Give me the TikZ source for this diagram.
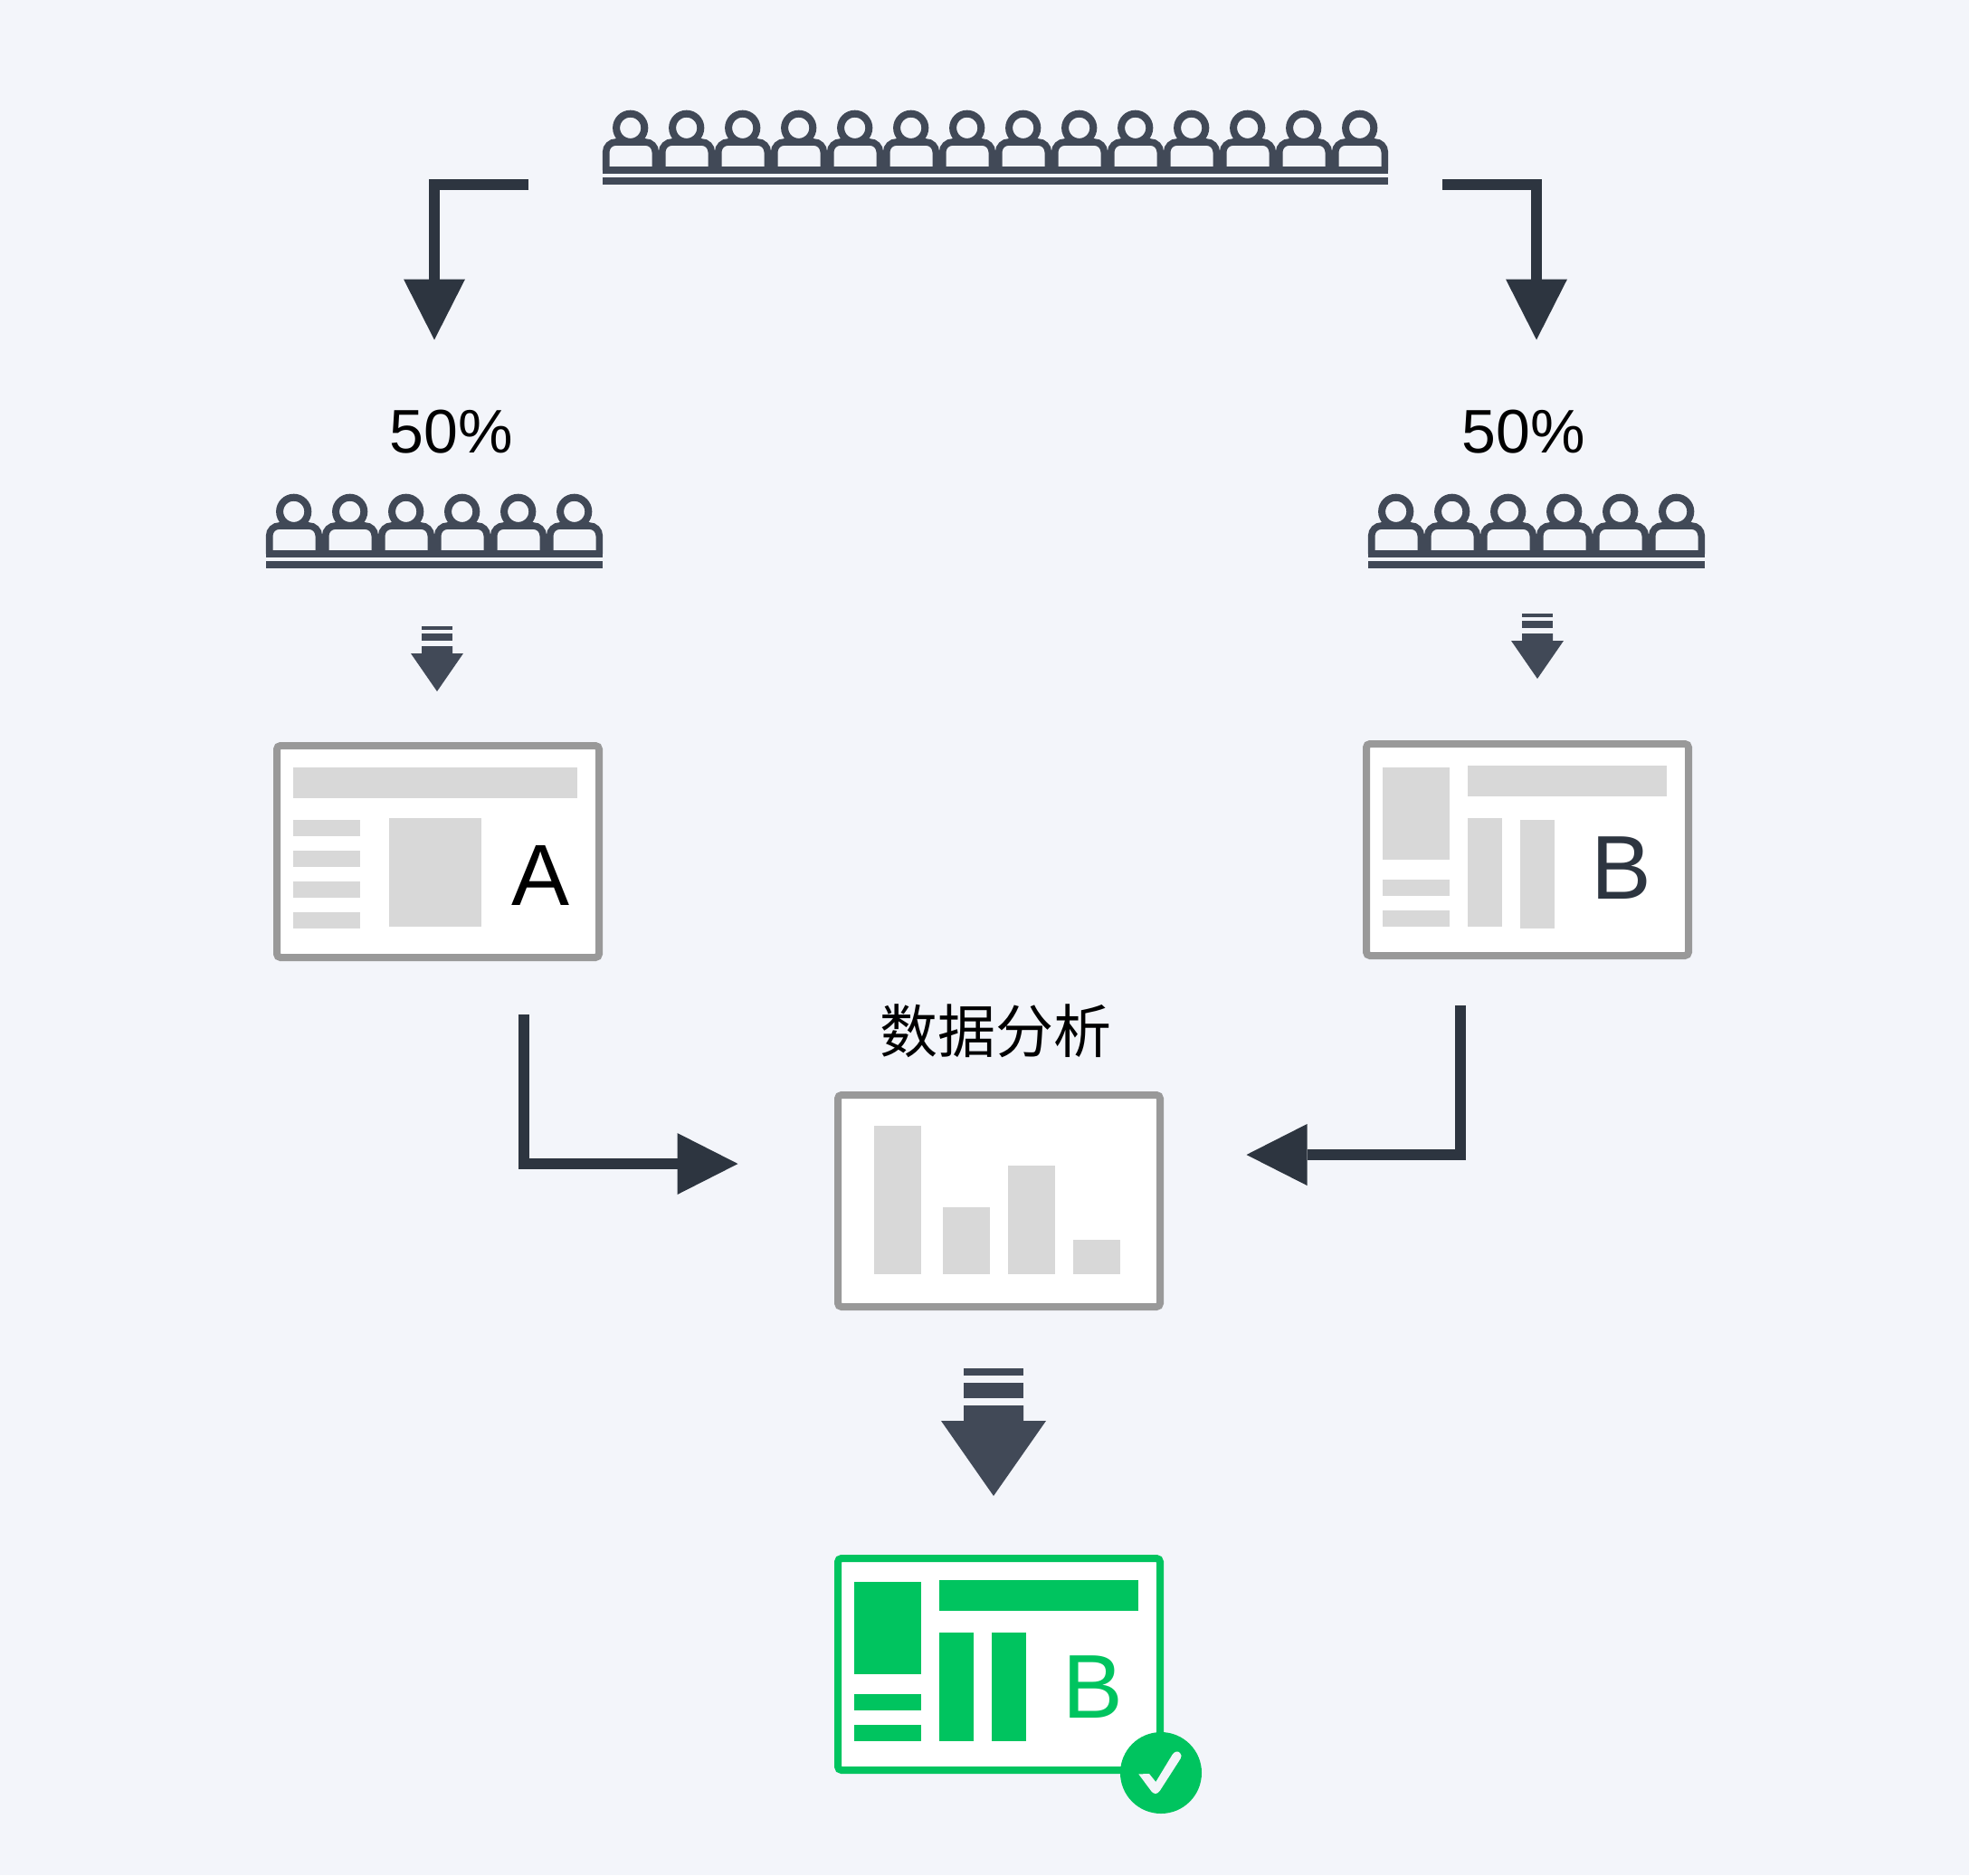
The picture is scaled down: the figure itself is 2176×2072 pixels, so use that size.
\documentclass[tikz,border=0pt]{standalone}
\usepackage{fontspec}
\setmainfont{Liberation Sans}
\newfontfamily\cjkfont{Noto Sans CJK SC}
\usetikzlibrary{arrows.meta}
\definecolor{pagebg}{HTML}{F3F5FA}
\definecolor{slate}{HTML}{414957}
\definecolor{ink}{HTML}{2D3540}
\definecolor{frame}{HTML}{999999}
\definecolor{block}{HTML}{D8D8D8}
\definecolor{okgreen}{HTML}{00C45F}
\tikzset{
  panel/.style={draw=frame,fill=white,line width=8pt,rounded corners=4pt,minimum width=356pt,minimum height=234pt,inner sep=0pt,outer sep=0pt},
  okpanel/.style={panel,draw=okgreen},
  flow/.style={draw=ink,line width=12pt,line cap=butt,line join=miter,-{Triangle[length=67pt,width=68pt,line width=0pt]}},
  label50/.style={anchor=base,inner sep=0pt,font=\fontsize{68}{68}\selectfont,text=black},
  letter/.style={anchor=base,inner sep=0pt,font=\fontsize{100}{100}\selectfont},
  persondraw/.style={draw=slate,line width=7.6pt}
}
\newcommand{\blk}[5]{\fill[#1] (#2,#3) rectangle (#4,#5);}
% crowd: x offset, y offset, count
\newcommand{\crowdrow}[3]{%
  \begin{scope}[shift={(#1,#2)}]
    \pgfmathsetmacro{\lastp}{#3-1}
    \foreach \k in {0,...,\lastp}{
      \begin{scope}[shift={(62*\k,0)}]
        \draw[persondraw,line width=8pt] (30.7,141.3) circle[radius=15.6pt];
        \draw[persondraw,rounded corners=11pt] (3.7,188) -- (3.7,157) -- (58.3,157) -- (58.3,188);
      \end{scope}
    }
    \fill[slate] (0,184) rectangle ({62*#3},192);
    \fill[slate] (0,196) rectangle ({62*#3},204);
  \end{scope}}
% stem arrow: xL, xR, headL, headR, bar y's
\newcommand{\stemarrow}[9]{%
  \fill[slate] (#1,#5) rectangle (#2,#6);
  \fill[slate] (#1,#7) rectangle (#2,#8);
  \fill[slate] (#1,#9) -- (#2,#9) -- (#2,\headtop) -- (#4,\headtop) -- (\tipx,\tipy) -- (#3,\headtop) -- (#1,\headtop) -- cycle;}
\begin{document}
\begin{tikzpicture}[x=1pt,y=-1pt]
\useasboundingbox (0,0) rectangle (2176,2072);
\fill[pagebg] (0,0) rectangle (2176,2072);

% crowds
\crowdrow{666}{0}{14}
\crowdrow{294}{424}{6}
\crowdrow{1512}{424}{6}

% connectors
\coordinate (ltop) at (584,204);
\coordinate (lcorner) at (480,204);
\coordinate (ltip) at (480,375.5);
\coordinate (rtop) at (1594,204);
\coordinate (rcorner) at (1698,204);
\coordinate (rtip) at (1698,375.5);
\coordinate (astart) at (579,1121);
\coordinate (acorner) at (579,1286);
\coordinate (atip) at (815.5,1286);
\coordinate (bstart) at (1614,1111);
\coordinate (bcorner) at (1614,1276);
\coordinate (btip) at (1377.5,1276);
\draw[flow] (ltop) -- (lcorner) -- (ltip);
\draw[flow] (rtop) -- (rcorner) -- (rtip);
\draw[flow] (astart) -- (acorner) -- (atip);
\draw[flow] (bstart) -- (bcorner) -- (btip);

% labels
\node[label50] (pctl) at (498.5,500) {50\%};
\node[label50] (pctr) at (1683.5,500) {50\%};
\node[anchor=center,inner sep=0pt,font=\cjkfont\fontsize{64}{64}\selectfont,text=black] (analysis) at (1100,1139) {数据分析};

% small and big stem arrows
\def\headtop{722}\def\tipx{483}\def\tipy{764}
\stemarrow{466}{500}{454}{512}{692}{696}{700}{708}{714}
\def\headtop{708}\def\tipx{1699}\def\tipy{750}
\stemarrow{1682}{1716}{1670}{1728}{678}{682}{686}{694}{700}
\def\headtop{1570}\def\tipx{1098}\def\tipy{1653}
\stemarrow{1065}{1131}{1040}{1156}{1512}{1520}{1528}{1545}{1553}

% panel A
\node[panel] (panelA) at (484,941) {};
\blk{block}{324}{848}{638}{882}
\blk{block}{324}{906}{398}{924}
\blk{block}{324}{940}{398}{958}
\blk{block}{324}{974}{398}{992}
\blk{block}{324}{1008}{398}{1026}
\blk{block}{430}{904}{532}{1024}
\node[letter,text=black,font=\fontsize{96}{96}\selectfont] (letterA) at (597.5,1000) {A};

% panel B
\node[panel] (panelB) at (1688,939) {};
\blk{block}{1528}{848}{1602}{950}
\blk{block}{1528}{972}{1602}{990}
\blk{block}{1528}{1006}{1602}{1024}
\blk{block}{1622}{846}{1842}{880}
\blk{block}{1622}{904}{1660}{1024}
\blk{block}{1680}{906}{1718}{1026}
\node[letter,text=ink] (letterB) at (1791.5,993) {B};

% analysis panel
\node[panel] (panelC) at (1104,1327) {};
\blk{block}{966}{1244}{1018}{1408}
\blk{block}{1042}{1334}{1094}{1408}
\blk{block}{1114}{1288}{1166}{1408}
\blk{block}{1186}{1370}{1238}{1408}

% winner panel
\node[okpanel] (panelW) at (1104,1839) {};
\blk{okgreen}{944}{1748}{1018}{1850}
\blk{okgreen}{944}{1872}{1018}{1890}
\blk{okgreen}{944}{1906}{1018}{1924}
\blk{okgreen}{1038}{1746}{1258}{1780}
\blk{okgreen}{1038}{1804}{1076}{1924}
\blk{okgreen}{1096}{1804}{1134}{1924}
\node[letter,text=okgreen] (letterW) at (1207.5,1898) {B};

% check badge
\node[circle,fill=okgreen,minimum size=90pt,inner sep=0pt,outer sep=0pt] (badge) at (1283,1959) {};
\fill[pagebg] (1258.3,1960.4) -- (1270,1960) -- (1277.3,1969) -- (1295.5,1939)
  .. controls (1298,1935) and (1302,1934.5) .. (1304,1937)
  .. controls (1306,1939) and (1306,1941) .. (1304.5,1943.5)
  -- (1282,1978.5) .. controls (1279,1983) and (1275.5,1983) .. (1272.5,1979.5) -- cycle;
\end{tikzpicture}
\end{document}
